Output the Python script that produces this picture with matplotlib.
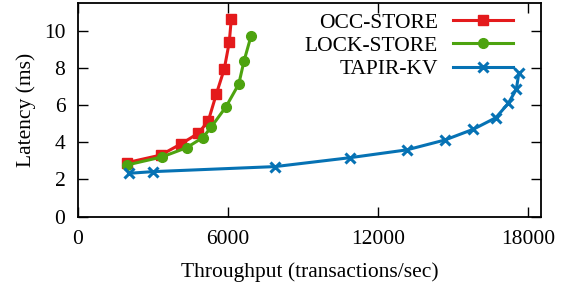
import matplotlib
matplotlib.use('Agg')
import matplotlib.pyplot as plt

# throughput (transactions/sec) and latency (ms)
occ_x = [1950, 3310, 4120, 4810, 5210, 5530, 5850, 6050, 6130]
occ_y = [2.90, 3.31, 3.91, 4.48, 5.14, 6.58, 7.94, 9.38, 10.61]

lock_x = [1970, 3360, 4350, 4990, 5320, 5920, 6430, 6640, 6920]
lock_y = [2.78, 3.21, 3.71, 4.25, 4.80, 5.91, 7.13, 8.37, 9.71]

tapir_x = [2040, 3010, 7880, 10880, 13150, 14670, 15810, 16710, 17210, 17530, 17630]
tapir_y = [2.33, 2.42, 2.69, 3.17, 3.59, 4.12, 4.70, 5.32, 6.10, 6.85, 7.74]

x_ticks = [0, 6000, 12000, 18000]
y_ticks = [0, 2, 4, 6, 8, 10]

plt.rcParams['font.family'] = ['Liberation Serif', 'DejaVu Serif']
plt.rcParams['font.size'] = 15.5

fig = plt.figure(figsize=(5.69, 2.85), dpi=100)
ax = fig.add_axes([0.137, 0.24, 0.814, 0.75])

ax.plot(occ_x, occ_y, color='#e41a1c', lw=2.2, marker='s', ms=7,
        label='OCC-STORE')
ax.plot(lock_x, lock_y, color='#4da30f', lw=2.2, marker='o', ms=7,
        label='LOCK-STORE')
ax.plot(tapir_x, tapir_y, color='#0672b4', lw=2.2, marker='x', ms=7.5,
        mew=2.2, label='TAPIR-KV')

ax.set_xlim(0, 18520)
ax.set_ylim(0, 11.5)
ax.set_xticks(x_ticks)
ax.set_yticks(y_ticks)
ax.tick_params(direction='in', length=7, width=1, top=True, right=True)
ax.tick_params(axis='y', pad=9)
ax.tick_params(axis='x', pad=10)
for s in ax.spines.values():
    s.set_linewidth(1.3)

ax.set_xlabel('Throughput (transactions/sec)', labelpad=9)
ax.set_ylabel('Latency (ms)', labelpad=6)

ax.legend(loc='upper right', bbox_to_anchor=(0.972, 1.025), frameon=False,
          markerfirst=False, numpoints=1, handlelength=2.8,
          handletextpad=0.7, labelspacing=0.15, borderpad=0.2)

fig.savefig('out.png', dpi=100)
